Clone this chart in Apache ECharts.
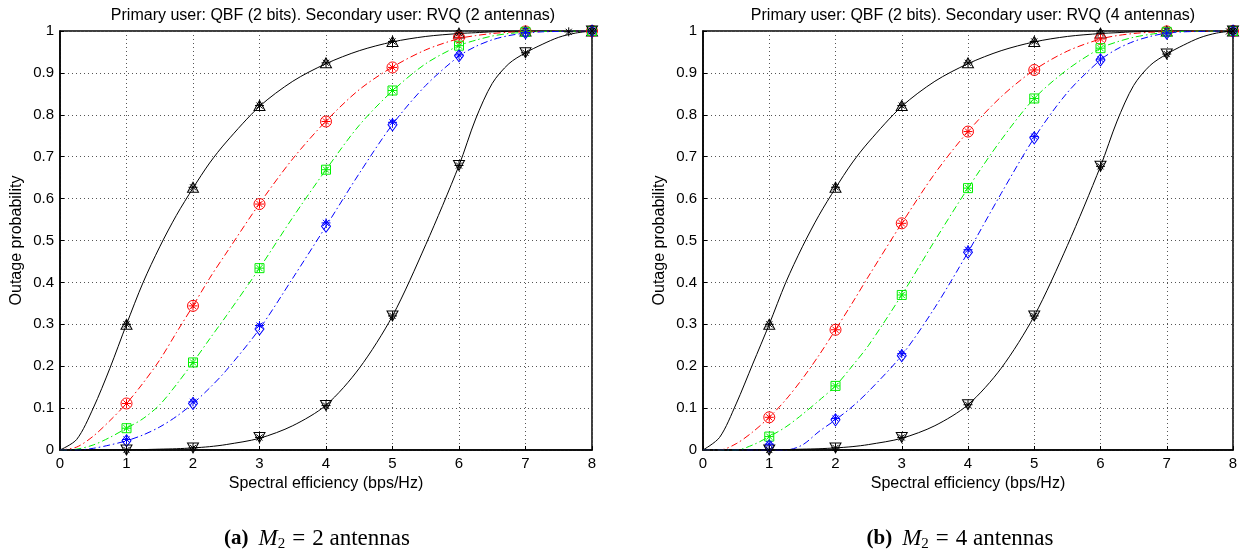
<!DOCTYPE html>
<html>
<head>
<meta charset="utf-8">
<script src="https://cdn.jsdelivr.net/npm/echarts@6/dist/echarts.min.js"></script>
<style>
html,body{margin:0;padding:0;background:#fff;}
#c{width:1246px;height:552px;}
</style>
</head>
<body>
<div id="c"></div>
<script>
// ---------- DATA ----------
const xLine = [0, 0.25, 0.5, 0.75, 1, 1.25, 1.5, 1.75, 2, 2.25, 2.5, 3, 3.5, 4, 4.5, 5, 5.5, 6, 6.25, 6.5, 6.75, 7, 7.25, 7.5, 7.75, 8];
const xMark = [1, 2, 3, 4, 5, 6, 7, 8];
const xTicks = [0, 1, 2, 3, 4, 5, 6, 7, 8];
const yTicks = [0, 0.1, 0.2, 0.3, 0.4, 0.5, 0.6, 0.7, 0.8, 0.9, 1];

// (a) M2 = 2 antennas : curves
const aBlackUp   = [0, 0.025, 0.10, 0.195, 0.30, 0.40, 0.485, 0.56, 0.625, 0.685, 0.735, 0.82, 0.88, 0.922, 0.953, 0.974, 0.987, 0.994, 0.996, 0.998, 0.999, 1, 1, 1, 1, 1];
const aRed       = [0, 0.007, 0.033, 0.07, 0.111, 0.16, 0.215, 0.28, 0.344, 0.41, 0.47, 0.588, 0.695, 0.785, 0.86, 0.914, 0.955, 0.982, 0.989, 0.994, 0.997, 0.998, 0.999, 1, 1, 1];
const aGreen     = [0, 0.002, 0.012, 0.03, 0.052, 0.075, 0.108, 0.156, 0.209, 0.265, 0.32, 0.434, 0.555, 0.669, 0.775, 0.857, 0.922, 0.965, 0.978, 0.988, 0.994, 0.997, 0.999, 1, 1, 1];
const aBlue      = [0, 0, 0.004, 0.012, 0.022, 0.036, 0.055, 0.08, 0.111, 0.148, 0.19, 0.289, 0.41, 0.534, 0.66, 0.777, 0.87, 0.94, 0.963, 0.979, 0.989, 0.995, 0.998, 0.999, 1, 1];
const aBlackDown = [0, 0, 0, 0, 0.0005, 0.001, 0.002, 0.003, 0.005, 0.008, 0.013, 0.028, 0.058, 0.107, 0.195, 0.32, 0.49, 0.679, 0.79, 0.875, 0.922, 0.948, 0.968, 0.985, 0.995, 1];
// (a) markers (analytical) at xMark
const aMkBlackUp   = [0.30, 0.627, 0.822, 0.924, 0.975, 0.995, 1, 1];
const aMkRed       = [0.111, 0.344, 0.587, 0.784, 0.913, 0.985, 0.999, 1];
const aMkGreen     = [0.052, 0.209, 0.434, 0.669, 0.858, 0.965, 0.998, 1];
const aMkBlue      = [0.022, 0.111, 0.289, 0.534, 0.776, 0.941, 0.996, 1];
const aMkBlackDown = [0, 0.005, 0.03, 0.106, 0.32, 0.679, 0.948, 1];
// (a) simulation points (asterisks)
const aSimBlueY      = [0.025, 0.115, 0.297, 0.542, 0.782, 0.943, 0.996, 1];
const aSimBlackDownX = [1, 2, 3, 4, 5, 6, 7, 7.65, 8];
const aSimBlackDownY = [0, 0.005, 0.03, 0.106, 0.32, 0.679, 0.948, 0.998, 1];

// (b) M2 = 4 antennas : curves
const bBlackUp   = [0, 0.03, 0.11, 0.205, 0.30, 0.40, 0.485, 0.56, 0.625, 0.685, 0.735, 0.82, 0.88, 0.922, 0.953, 0.974, 0.987, 0.994, 0.996, 0.998, 0.999, 1, 1, 1, 1, 1];
const bRed       = [0, 0, 0.015, 0.043, 0.078, 0.12, 0.17, 0.226, 0.287, 0.35, 0.415, 0.541, 0.66, 0.76, 0.843, 0.907, 0.952, 0.981, 0.989, 0.994, 0.997, 0.998, 0.999, 1, 1, 1];
const bGreen     = [0, 0, 0, 0.012, 0.032, 0.055, 0.085, 0.118, 0.153, 0.2, 0.25, 0.37, 0.5, 0.625, 0.74, 0.839, 0.908, 0.959, 0.974, 0.985, 0.992, 0.997, 0.999, 1, 1, 1];
const bBlue      = [0, 0, 0, 0, 0, 0, 0.012, 0.044, 0.072, 0.103, 0.14, 0.226, 0.34, 0.472, 0.612, 0.745, 0.853, 0.931, 0.957, 0.975, 0.987, 0.995, 0.998, 0.999, 1, 1];
const bBlackDown = [0, 0, 0, 0, 0.0005, 0.001, 0.002, 0.003, 0.005, 0.008, 0.013, 0.028, 0.058, 0.108, 0.195, 0.32, 0.488, 0.677, 0.785, 0.87, 0.918, 0.945, 0.966, 0.984, 0.995, 1];
// (b) markers
const bMkBlackUp   = [0.30, 0.627, 0.822, 0.924, 0.975, 0.995, 1, 1];
const bMkRed       = [0.078, 0.287, 0.541, 0.76, 0.907, 0.981, 0.999, 1];
const bMkGreen     = [0.032, 0.153, 0.37, 0.625, 0.839, 0.959, 0.998, 1];
const bMkBlue      = [0.01, 0.072, 0.225, 0.472, 0.745, 0.931, 0.995, 1];
const bMkBlackDown = [0, 0.005, 0.03, 0.108, 0.32, 0.677, 0.945, 1];
const bSimBlueY      = [0.014, 0.075, 0.23, 0.478, 0.748, 0.933, 0.995, 1];
const bSimBlackDownX = [1, 2, 3, 4, 5, 6, 7, 7.94, 8];
const bSimBlackDownY = [0, 0.005, 0.03, 0.108, 0.32, 0.677, 0.945, 0.999, 1];

const titles = ['Primary user: QBF (2 bits). Secondary user: RVQ (2 antennas)',
                'Primary user: QBF (2 bits). Secondary user: RVQ (4 antennas)'];
const xName = 'Spectral efficiency (bps/Hz)';
const yName = 'Outage probability';

// ---------- CHART ----------
const SANS = 'Liberation Sans, Arial, Helvetica, sans-serif';
const SERIF = 'Liberation Serif, Times New Roman, serif';
const RED = '#ff0000', GREEN = '#00f000', BLUE = '#0000ff', BLACK = '#000000';
const ASTER = 'path://M5,0L5,10M0,5L10,5M1.6,1.6L8.4,8.4M8.4,1.6L1.6,8.4';
const DASHDOT = [7, 3, 1.5, 3];

function pairs(xs, ys) { return xs.map((x, i) => [x, ys[i]]); }

function lineS(idx, ys, color, dash) {
  return { type: 'line', xAxisIndex: idx, yAxisIndex: idx, data: pairs(xLine, ys),
    smooth: 0.3, showSymbol: false, silent: true, z: 2,
    lineStyle: { color: color, width: 1, type: dash ? DASHDOT : 'solid' } };
}
function markS(idx, xs, ys, color, symbol, size, rot) {
  return { type: 'scatter', xAxisIndex: idx, yAxisIndex: idx, data: pairs(xs, ys),
    symbol: symbol, symbolSize: size, symbolRotate: rot || 0, silent: true, z: 3,
    itemStyle: { color: 'rgba(0,0,0,0)', borderColor: color, borderWidth: 1, opacity: 1 } };
}

function axisX(gi) {
  return { type: 'value', gridIndex: gi, min: 0, max: 8, interval: 1,
    name: xName, nameLocation: 'middle', nameGap: 25,
    nameTextStyle: { fontFamily: SANS, fontSize: 16, color: '#000' },
    axisLine: { show: true, onZero: false, lineStyle: { color: '#000', width: 1.5 } },
    axisTick: { show: true, inside: true, length: 4, lineStyle: { color: '#000' } },
    axisLabel: { fontFamily: SANS, fontSize: 15, color: '#000', margin: 6,
      formatter: v => (xTicks.indexOf(v) >= 0 ? String(v) : '') },
    splitLine: { show: true, lineStyle: { color: '#555', type: [1, 3], width: 1 } } };
}
function axisY(gi) {
  return { type: 'value', gridIndex: gi, min: 0, max: 1, interval: 0.1,
    name: yName, nameLocation: 'middle', nameGap: 35, nameRotate: 90,
    nameTextStyle: { fontFamily: SANS, fontSize: 16, color: '#000' },
    axisLine: { show: true, lineStyle: { color: '#000', width: 1.5 } },
    axisTick: { show: true, inside: true, length: 4, lineStyle: { color: '#000' } },
    axisLabel: { fontFamily: SANS, fontSize: 15, color: '#000', margin: 6,
      formatter: v => { const t = yTicks.find(k => Math.abs(k - v) < 1e-9); return t === undefined ? '' : String(t); } },
    splitLine: { show: true, lineStyle: { color: '#555', type: [1, 3], width: 1 } } };
}

const series = [];
[[aBlackUp, aRed, aGreen, aBlue, aBlackDown, aMkBlackUp, aMkRed, aMkGreen, aMkBlue, aMkBlackDown, aSimBlueY, aSimBlackDownX, aSimBlackDownY],
 [bBlackUp, bRed, bGreen, bBlue, bBlackDown, bMkBlackUp, bMkRed, bMkGreen, bMkBlue, bMkBlackDown, bSimBlueY, bSimBlackDownX, bSimBlackDownY]]
.forEach((d, gi) => {
  const [bu, r, g, b, bd, mbu, mr, mg, mb, mbd, sb, sbdx, sbdy] = d;
  series.push(lineS(gi, bu, BLACK, false));
  series.push(lineS(gi, r, RED, true));
  series.push(lineS(gi, g, GREEN, true));
  series.push(lineS(gi, b, BLUE, true));
  series.push(lineS(gi, bd, BLACK, false));
  series.push(markS(gi, xMark, mbu, BLACK, 'triangle', [11, 10]));
  series.push(markS(gi, xMark, mr, RED, 'circle', 11));
  series.push(markS(gi, xMark, mg, GREEN, 'rect', 9));
  series.push(markS(gi, xMark, mb, BLUE, 'diamond', [9, 12]));
  series.push(markS(gi, xMark, mbd, BLACK, 'triangle', [11, 10], 180));
  // simulation asterisks
  series.push(markS(gi, xMark, mbu, BLACK, ASTER, 9));
  series.push(markS(gi, xMark, mr, RED, ASTER, 9));
  series.push(markS(gi, xMark, mg, GREEN, ASTER, 9));
  series.push(markS(gi, xMark, sb, BLUE, ASTER, 9));
  series.push(markS(gi, sbdx, sbdy, BLACK, ASTER, 9));
});

function caption(label, num, cx) {
  return { text: '{b|' + label + '}  {i|M}{s|2}{e|=}{n|' + num + ' antennas}', left: cx, top: 521, textAlign: 'center',
    textStyle: { fontWeight: 'normal', rich: {
      b: { fontFamily: SERIF, fontSize: 21, fontWeight: 'bold', color: '#000' },
      i: { fontFamily: SERIF, fontSize: 23, fontStyle: 'italic', fontWeight: 'normal', color: '#000' },
      s: { fontFamily: SERIF, fontSize: 15, fontWeight: 'normal', color: '#000', padding: [11, 0, 0, 0] },
      e: { fontFamily: SERIF, fontSize: 23, fontWeight: 'normal', color: '#000', padding: [0, 7, 0, 7] },
      n: { fontFamily: SERIF, fontSize: 23, fontWeight: 'normal', color: '#000' } } } };
}

const chart = echarts.init(document.getElementById('c'), null, { renderer: 'canvas' });
chart.setOption({
  backgroundColor: '#fff',
  animation: false,
  title: [
    { text: titles[0], left: 328, top: 3, textAlign: 'center',
      textStyle: { fontFamily: SANS, fontSize: 16, fontWeight: 'normal', color: '#000' } },
    { text: titles[1], left: 968, top: 3, textAlign: 'center',
      textStyle: { fontFamily: SANS, fontSize: 16, fontWeight: 'normal', color: '#000' } },
    caption('(a)', 2, 312),
    caption('(b)', 4, 955)
  ],
  grid: [
    { left: 60, top: 31, width: 532, height: 419, show: true, borderColor: '#000', borderWidth: 1.5, backgroundColor: 'transparent' },
    { left: 703, top: 31, width: 530, height: 419, show: true, borderColor: '#000', borderWidth: 1.5, backgroundColor: 'transparent' }
  ],
  xAxis: [axisX(0), axisX(1)],
  yAxis: [axisY(0), axisY(1)],
  series: series
});
</script>
</body>
</html>
